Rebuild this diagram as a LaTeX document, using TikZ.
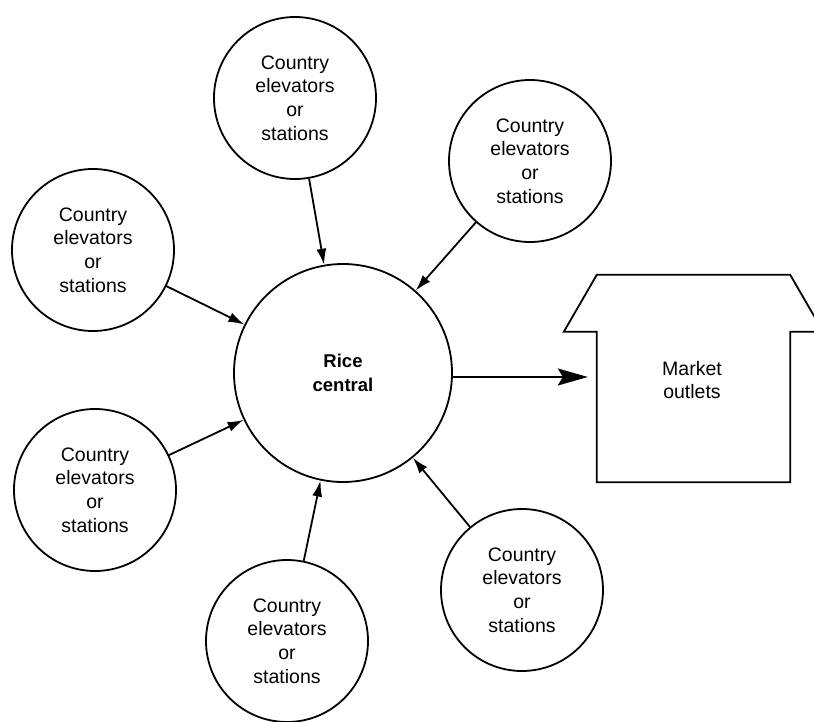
\documentclass[tikz,border=0pt]{standalone}
\usepackage{fontspec}
\setmainfont{Liberation Sans}
\usetikzlibrary{arrows.meta,calc}
\begin{document}
\begin{tikzpicture}[x=1pt,y=-1pt,
  stn/.style={circle,draw,line width=1.8pt,minimum size=162pt,inner sep=0pt,align=center,font=\fontsize{19.5}{23.7}\selectfont},
  hub/.style={circle,draw,line width=1.8pt,minimum size=218pt,inner sep=0pt,align=center,font=\fontsize{18.5}{24}\selectfont\bfseries},
  feed/.style={line width=1.8pt,-{Latex[length=16pt,width=10pt]}},
  bigarrow/.style={line width=1.8pt,-{Stealth[length=30pt,width=17pt,inset=5pt]},shorten >=9pt},
  wall/.style={line width=1.8pt,line join=miter},
  lbl/.style={align=center,font=\fontsize{19.5}{23.7}\selectfont}]
\useasboundingbox (0,0) rectangle (814,722);
% hub
\node[hub] (C) at (343,373) {Rice\\central};
% stations
\node[stn] (T)  at (295,98)  {Country\\elevators\\or\\stations};
\node[stn] (TR) at (530,161) {Country\\elevators\\or\\stations};
\node[stn] (LU) at (93,250)  {Country\\elevators\\or\\stations};
\node[stn] (LL) at (95,490)  {Country\\elevators\\or\\stations};
\node[stn] (B)  at (287,641) {Country\\elevators\\or\\stations};
\node[stn] (BR) at (522,590) {Country\\elevators\\or\\stations};
% market outlets house
\node[minimum width=193pt,minimum height=150pt,inner sep=0pt] (M) at (693.5,407) {};
\draw[wall] (M.north west) -- ++(-33,0) -- ($(M.north west)+(0,-57)$)
  -- ($(M.north east)+(0,-57)$) -- ($(M.north east)+(33,0)$)
  -- (M.north east) -- (M.south east) -- (M.south west) -- cycle;
\node[lbl] (mtext) at (692,380) {Market\\outlets};
% connectors
\draw[feed] (T) -- (C);
\draw[feed] (TR) -- (C);
\draw[feed] (LU) -- (C);
\draw[feed] (LL) -- (C);
\draw[feed] (B) -- (C);
\draw[feed] (BR) -- (C);
\path (C.east) ++(0,4) coordinate (a0);
\draw[bigarrow] (a0) -- (a0 -| M.west);
\end{tikzpicture}
\end{document}
